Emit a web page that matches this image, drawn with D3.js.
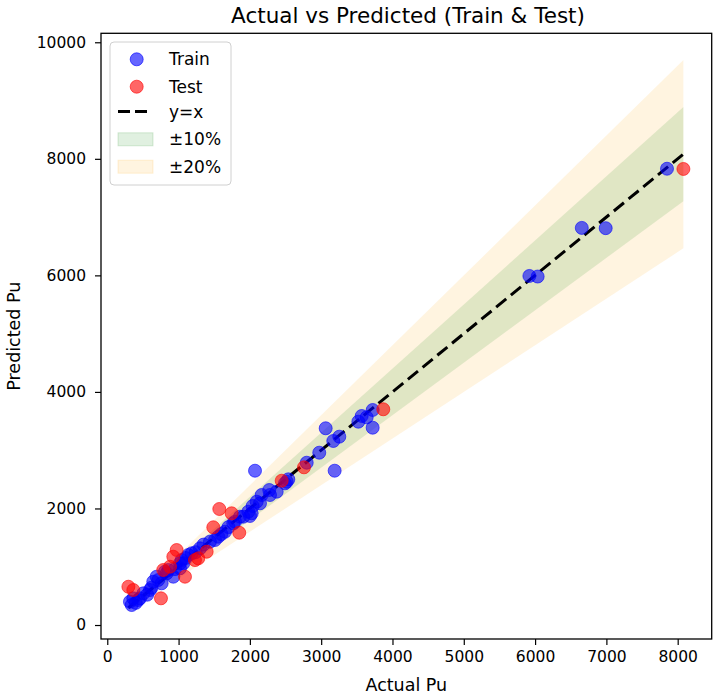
<!DOCTYPE html>
<html>
<head>
<meta charset="utf-8">
<script src="https://cdn.jsdelivr.net/npm/d3@7"></script>
<style>
  html, body { margin: 0; padding: 0; background: #fff; }
  svg { display: block; font-family: "DejaVu Sans", sans-serif; }
</style>
</head>
<body>
<div id="chart"></div>
<script>
// ---- Data ----
const trainActual = [7850, 6990, 6655, 5920, 6036,
  3722, 3568, 3521, 3638, 3722, 3063, 3254, 3170, 3189, 2973, 2072, 2797, 2539, 2492, 2272, 2165, 2095, 2039, 1978, 2001, 1861, 1791,
  1767, 1907, 2025, 1651, 1557, 1511, 1440, 1300, 1184, 1136, 1043, 1020, 1020, 1067, 856, 809, 833, 926, 715, 645, 692, 762, 599, 506, 459, 365, 435, 318, 342,
  2142, 2282, 2376, 2516, 1600, 1700, 1240, 1350, 950, 1100, 560, 400, 620];
const trainPred = [7830, 6810, 6815, 5990, 5980,
  3690, 3587, 3489, 3564, 3386, 3376, 3232, 3158, 2648, 2957, 2648, 2785, 2500, 2431, 2317, 2231, 2116, 2042, 1944, 1871, 1859, 1773,
  1745, 1859, 1917, 1601, 1515, 1459, 1430, 1316, 1230, 1201, 1116, 1059, 973, 1059, 944, 915, 887, 829, 772, 743, 829, 716, 601, 544, 458, 458, 429, 400, 343,
  2088, 2231, 2288, 2459, 1560, 1680, 1250, 1380, 960, 1150, 520, 380, 640];
const testActual = [8080, 3871, 2759, 2446, 1571, 1744, 1487, 1851, 973, 926, 1230, 1276, 1394, 785, 880, 1090, 296, 365, 753];
const testPred = [7826, 3702, 2706, 2476, 1991, 1917, 1677, 1584, 1287, 1172, 1115, 1144, 1258, 944, 1001, 829, 657, 601, 458];
const xTicks = [0, 1000, 2000, 3000, 4000, 5000, 6000, 7000, 8000];
const yTicks = [0, 2000, 4000, 6000, 8000, 10000];
const legendLabels = ["Train", "Test", "y=x", "±10%", "±20%"];
const bandLevels = [0.2, 0.1];

// ---- Layout ----
const W = 718, H = 697;
const mLeft = 101, mRight = 711.7, mTop = 33.3, mBottom = 639;

const svg = d3.select("#chart").append("svg").attr("width", W).attr("height", H);

const x = d3.scaleLinear().domain([-88, 8477]).range([mLeft, mRight]);
const y = d3.scaleLinear().domain([-240, 10154]).range([mBottom, mTop]);

const allActual = trainActual.concat(testActual);
const lo = d3.min(allActual), hi = d3.max(allActual);

const plot = svg.append("g");
plot.append("clipPath").attr("id", "clip").append("rect")
  .attr("x", mLeft).attr("y", mTop).attr("width", mRight - mLeft).attr("height", mBottom - mTop);
const inner = plot.append("g").attr("clip-path", "url(#clip)");

// bands
const bandColor = { 0.2: "#ffa500", 0.1: "#008000" };
bandLevels.forEach(b => {
  const pts = [lo, hi];
  const area = d3.area().x(d => x(d)).y0(d => y(d * (1 - b))).y1(d => y(d * (1 + b)));
  inner.append("path").datum(pts).attr("d", area)
    .attr("fill", bandColor[b]).attr("fill-opacity", 0.12);
});

// y = x line
inner.append("line")
  .attr("x1", x(lo)).attr("y1", y(lo)).attr("x2", x(hi)).attr("y2", y(hi))
  .attr("stroke", "#000").attr("stroke-width", 3).attr("stroke-dasharray", "13,6");

// points
const train = trainActual.map((a, i) => [a, trainPred[i]]);
const test = testActual.map((a, i) => [a, testPred[i]]);
inner.append("g").selectAll("circle").data(train).join("circle")
  .attr("cx", d => x(d[0])).attr("cy", d => y(d[1])).attr("r", 6.5)
  .attr("fill", "#0000ff").attr("fill-opacity", 0.6)
  .attr("stroke", "#0000ff").attr("stroke-opacity", 0.6).attr("stroke-width", 1);
inner.append("g").selectAll("circle").data(test).join("circle")
  .attr("cx", d => x(d[0])).attr("cy", d => y(d[1])).attr("r", 6.5)
  .attr("fill", "#ff0000").attr("fill-opacity", 0.6)
  .attr("stroke", "#ff0000").attr("stroke-opacity", 0.6).attr("stroke-width", 1);

// axes
const xAxis = svg.append("g").attr("transform", `translate(0,${mBottom})`)
  .call(d3.axisBottom(x).tickValues(xTicks).tickSize(6).tickPadding(6).tickFormat(d3.format("d")));
const yAxis = svg.append("g").attr("transform", `translate(${mLeft},0)`)
  .call(d3.axisLeft(y).tickValues(yTicks).tickSize(6).tickPadding(9).tickFormat(d3.format("d")));
[xAxis, yAxis].forEach(a => {
  a.select(".domain").remove();
  a.selectAll("line").attr("stroke", "#000").attr("stroke-width", 1.2);
  a.selectAll("text").attr("font-size", 15.5).attr("fill", "#000").attr("font-family", "DejaVu Sans");
});

// frame
svg.append("rect").attr("x", mLeft).attr("y", mTop).attr("width", mRight - mLeft).attr("height", mBottom - mTop)
  .attr("fill", "none").attr("stroke", "#000").attr("stroke-width", 1.3);

// labels
svg.append("text").attr("x", 408).attr("y", 23).attr("text-anchor", "middle")
  .attr("font-size", 21.5).text("Actual vs Predicted (Train & Test)");
svg.append("text").attr("x", (mLeft + mRight) / 2).attr("y", 691).attr("text-anchor", "middle")
  .attr("font-size", 17.5).text("Actual Pu");
svg.append("text").attr("transform", `translate(20,${(mTop + mBottom) / 2}) rotate(-90)`)
  .attr("text-anchor", "middle").attr("font-size", 17.5).text("Predicted Pu");

// legend
const lg = svg.append("g");
lg.append("rect").attr("x", 110).attr("y", 42).attr("width", 121).attr("height", 143).attr("rx", 4)
  .attr("fill", "#fff").attr("fill-opacity", 0.8).attr("stroke", "#d0d0d0").attr("stroke-width", 1);
const rows = [59.3, 86.7, 111.5, 139.3, 166.7];
const textX = 169;
lg.append("circle").attr("cx", 136.7).attr("cy", rows[0]).attr("r", 6.5)
  .attr("fill", "#0000ff").attr("fill-opacity", 0.6).attr("stroke", "#0000ff").attr("stroke-opacity", 0.6);
lg.append("circle").attr("cx", 136.7).attr("cy", rows[1]).attr("r", 6.5)
  .attr("fill", "#ff0000").attr("fill-opacity", 0.6).attr("stroke", "#ff0000").attr("stroke-opacity", 0.6);
lg.append("line").attr("x1", 118).attr("x2", 152).attr("y1", rows[2]).attr("y2", rows[2])
  .attr("stroke", "#000").attr("stroke-width", 3).attr("stroke-dasharray", "12,5");
lg.append("rect").attr("x", 118).attr("y", rows[3] - 6.5).attr("width", 35).attr("height", 13)
  .attr("fill", "#008000").attr("fill-opacity", 0.12).attr("stroke", "#008000").attr("stroke-opacity", 0.15);
lg.append("rect").attr("x", 118).attr("y", rows[4] - 6.5).attr("width", 35).attr("height", 13)
  .attr("fill", "#ffa500").attr("fill-opacity", 0.12).attr("stroke", "#ffa500").attr("stroke-opacity", 0.15);
legendLabels.forEach((t, i) => {
  lg.append("text").attr("x", textX).attr("y", rows[i] + 6).attr("font-size", 17).text(t);
});
</script>
</body>
</html>
